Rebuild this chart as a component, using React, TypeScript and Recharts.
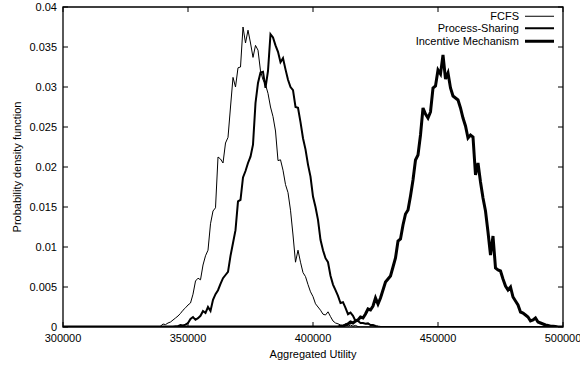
import React from 'react';
import { LineChart, Line, XAxis, YAxis, ReferenceArea, Legend } from 'recharts';

// ---------- data ----------
const STEP = 1000;
const X_MIN = 300000;
const X_MAX = 500000;
const xTicks = [300000, 350000, 400000, 450000, 500000];
const xTickLabels = ['300000', '350000', '400000', '450000', '500000'];
const yTicks = [0, 0.005, 0.01, 0.015, 0.02, 0.025, 0.03, 0.035, 0.04];
const yTickLabels = ['0', '0.005', '0.01', '0.015', '0.02', '0.025', '0.03', '0.035', '0.04'];
const seriesNames = ['FCFS', 'Process-Sharing', 'Incentive Mechanism'];

const fcfsStart = 338000;
const fcfsValues = [
  0, 0.0001, 0.000375, 0.0003, 0.0005, 0.000625, 0.000875, 0.001125, 0.001375, 0.0017,
  0.0021, 0.0024, 0.00275, 0.003, 0.0041, 0.00575, 0.0061, 0.0059, 0.00775, 0.0089,
  0.0096, 0.0129, 0.0145, 0.0149, 0.02125, 0.021, 0.0205, 0.023, 0.0237, 0.0275,
  0.0312, 0.03, 0.0324, 0.0325, 0.0375, 0.0355, 0.0371, 0.0355, 0.0337, 0.0352,
  0.0346, 0.032, 0.0309, 0.0303, 0.0292, 0.0275, 0.0263, 0.0245, 0.0208, 0.0209,
  0.0196, 0.0178, 0.0168, 0.0146, 0.0115, 0.0081, 0.0096, 0.0081, 0.0068, 0.0063,
  0.0053, 0.0044, 0.0038, 0.0029, 0.0025, 0.0021, 0.0016, 0.0015, 0.0019, 0.0013,
  0.00075, 0.0005, 0.0004, 0.00025, 0.0002, 0.0004, 0.0001, 0.00025, 0.0001, 0.0002,
  0.00005, 0,
];

const psStart = 344000;
const psValues = [
  0, 0.00005, 0.0001, 0.00025, 0.0002, 0.0003, 0.0005, 0.001, 0.00125, 0.0009,
  0.0011, 0.0014, 0.002, 0.00175, 0.0025, 0.002, 0.0034, 0.0041, 0.0046, 0.0054,
  0.0061, 0.0065, 0.0069, 0.0089, 0.0105, 0.0121, 0.0157, 0.0159, 0.0187, 0.0195,
  0.0205, 0.0213, 0.0228, 0.028, 0.0305, 0.0318, 0.0319, 0.0299, 0.032, 0.0366,
  0.0362, 0.0352, 0.0344, 0.0331, 0.0336, 0.0322, 0.0309, 0.03, 0.0296, 0.0275,
  0.0274, 0.0256, 0.0236, 0.0222, 0.0203, 0.0188, 0.0163, 0.015, 0.0134, 0.0109,
  0.0096, 0.0086, 0.0081, 0.0064, 0.0053, 0.0046, 0.0039, 0.003, 0.0031, 0.0024,
  0.0016, 0.0018, 0.0014, 0.00075, 0.00075, 0.0005, 0.0005, 0.0004, 0.00045, 0.00025,
  0.00025, 0.00012, 0.00005, 0,
];

const imStart = 410000;
const imValues = [
  0, 0.0001, 0.0001, 0.00025, 0.000375, 0.000625, 0.0005, 0.00075, 0.000875, 0.00125,
  0.001125, 0.001625, 0.00225, 0.002125, 0.002625, 0.003625, 0.002875, 0.003625, 0.004625, 0.005625,
  0.006, 0.006375, 0.0075, 0.008625, 0.01075, 0.011, 0.01275, 0.014125, 0.014625, 0.016375,
  0.018375, 0.020875, 0.0215, 0.024, 0.027375, 0.026625, 0.026125, 0.026875, 0.029875, 0.030125,
  0.032125, 0.031625, 0.034, 0.031, 0.03175, 0.029875, 0.028875, 0.028625, 0.028375, 0.027375,
  0.026125, 0.025125, 0.023625, 0.024, 0.02375, 0.019, 0.0205, 0.018125, 0.016125, 0.0145,
  0.011875, 0.009, 0.011375, 0.007375, 0.007125, 0.007, 0.006, 0.005125, 0.004625, 0.005,
  0.00375, 0.00325, 0.00275, 0.001875, 0.00175, 0.0015, 0.00125, 0.00075, 0.000875, 0.001125,
  0.000625, 0.0005, 0.000375, 0.00025, 0.0002, 0.0001, 0.0001, 0.00005, 0,
];

// ---------- build series tables ----------
function buildSeries(start: number, values: number[]) {
  const pts = values.map((v, i) => ({ x: start + i * STEP, y: v }));
  return [{ x: X_MIN, y: 0 }, ...pts, { x: X_MAX, y: 0 }];
}
const fcfsData = buildSeries(fcfsStart, fcfsValues);
const psData = buildSeries(psStart, psValues);
const imData = buildSeries(imStart, imValues);

// ---------- layout / style ----------
const W = 580;
const H = 366;
const M = { top: 7, right: 17, bottom: 0, left: 0 };
const Y_AXIS_W = 63;
const X_AXIS_H = 39;
const PLOT = {
  left: M.left + Y_AXIS_W,
  right: W - M.right,
  top: M.top,
  bottom: H - M.bottom - X_AXIS_H,
};
const TICK_LEN = 5;
const FONT = "'Liberation Sans', Arial, Helvetica, sans-serif";
const FS = 11;
const widths = [1, 2, 3];

function YTick(props: any) {
  const { x, y, payload } = props;
  const idx = yTicks.indexOf(payload.value);
  return (
    <g>
      <line x1={PLOT.left} y1={y} x2={PLOT.left + TICK_LEN} y2={y} stroke="#000" strokeWidth={1} />
      <line x1={PLOT.right} y1={y} x2={PLOT.right - TICK_LEN} y2={y} stroke="#000" strokeWidth={1} />
      <text x={x} y={y} dy="0.36em" textAnchor="end" fontFamily={FONT} fontSize={FS} fill="#000">
        {idx >= 0 ? yTickLabels[idx] : String(payload.value)}
      </text>
    </g>
  );
}

function XTick(props: any) {
  const { x, y, payload } = props;
  const idx = xTicks.indexOf(payload.value);
  return (
    <g>
      <line x1={x} y1={PLOT.bottom} x2={x} y2={PLOT.bottom - TICK_LEN} stroke="#000" strokeWidth={1} />
      <line x1={x} y1={PLOT.top} x2={x} y2={PLOT.top + TICK_LEN} stroke="#000" strokeWidth={1} />
      <text x={x} y={y} dy="0.36em" textAnchor="middle" fontFamily={FONT} fontSize={FS} fill="#000">
        {idx >= 0 ? xTickLabels[idx] : String(payload.value)}
      </text>
    </g>
  );
}

const renderYTitle = () => {
  const cx = 17;
  const cy = (PLOT.top + PLOT.bottom) / 2;
  return (
    <text
      x={0}
      y={0}
      transform={`translate(${cx}, ${cy}) rotate(-90)`}
      textAnchor="middle"
      dy="0.36em"
      fontFamily={FONT}
      fontSize={FS}
      fill="#000"
    >
      Probability density function
    </text>
  );
};

const renderXTitle = () => {
  const cx = (PLOT.left + PLOT.right) / 2;
  return (
    <text x={cx} y={354} dy="0.36em" textAnchor="middle" fontFamily={FONT} fontSize={FS} fill="#000">
      Aggregated Utility
    </text>
  );
};

function LegendContent() {
  return (
    <div style={{ fontFamily: FONT, fontSize: FS, color: '#000' }}>
      {seriesNames.map((n, i) => (
        <div
          key={n}
          style={{ display: 'flex', justifyContent: 'flex-end', alignItems: 'center', height: 12.5 }}
        >
          <span style={{ lineHeight: '12.5px', whiteSpace: 'nowrap' }}>{n}</span>
          <svg width={35} height={12.5} style={{ display: 'block' }}>
            <line x1={6} x2={35} y1={6.25} y2={6.25} stroke="#000" strokeWidth={widths[i]} />
          </svg>
        </div>
      ))}
    </div>
  );
}

export default function App() {
  return (
    <div style={{ position: 'absolute', left: 0, top: 0, width: W, height: H, background: '#fff' }}>
      <LineChart width={W} height={H} margin={M}>
        <XAxis
          dataKey="x"
          type="number"
          domain={[X_MIN, X_MAX]}
          ticks={xTicks}
          allowDataOverflow
          height={X_AXIS_H}
          axisLine={false}
          tickLine={false}
          tickSize={0}
          tickMargin={11}
          tick={<XTick />}
          interval={0}
          label={{ content: renderXTitle }}
        />
        <YAxis
          type="number"
          domain={[0, 0.04]}
          ticks={yTicks}
          allowDataOverflow
          width={Y_AXIS_W}
          axisLine={false}
          tickLine={false}
          tickSize={0}
          tickMargin={6}
          tick={<YTick />}
          interval={0}
          label={{ content: renderYTitle }}
        />
        <Legend
          layout="vertical"
          align="center"
          verticalAlign="middle"
          content={<LegendContent />}
          wrapperStyle={{ left: 380, top: 9.5, width: 174 }}
        />
        <Line
          data={fcfsData}
          dataKey="y"
          name={seriesNames[0]}
          type="linear"
          stroke="#000"
          strokeWidth={widths[0]}
          dot={false}
          activeDot={false}
          isAnimationActive={false}
        />
        <Line
          data={psData}
          dataKey="y"
          name={seriesNames[1]}
          type="linear"
          stroke="#000"
          strokeWidth={widths[1]}
          dot={false}
          activeDot={false}
          isAnimationActive={false}
        />
        <Line
          data={imData}
          dataKey="y"
          name={seriesNames[2]}
          type="linear"
          stroke="#000"
          strokeWidth={widths[2]}
          dot={false}
          activeDot={false}
          isAnimationActive={false}
        />
        <ReferenceArea
          x1={X_MIN}
          x2={X_MAX}
          y1={0}
          y2={0.04}
          fill="none"
          fillOpacity={0}
          stroke="#000"
          strokeWidth={1.3}
          ifOverflow="visible"
        />
      </LineChart>
    </div>
  );
}
